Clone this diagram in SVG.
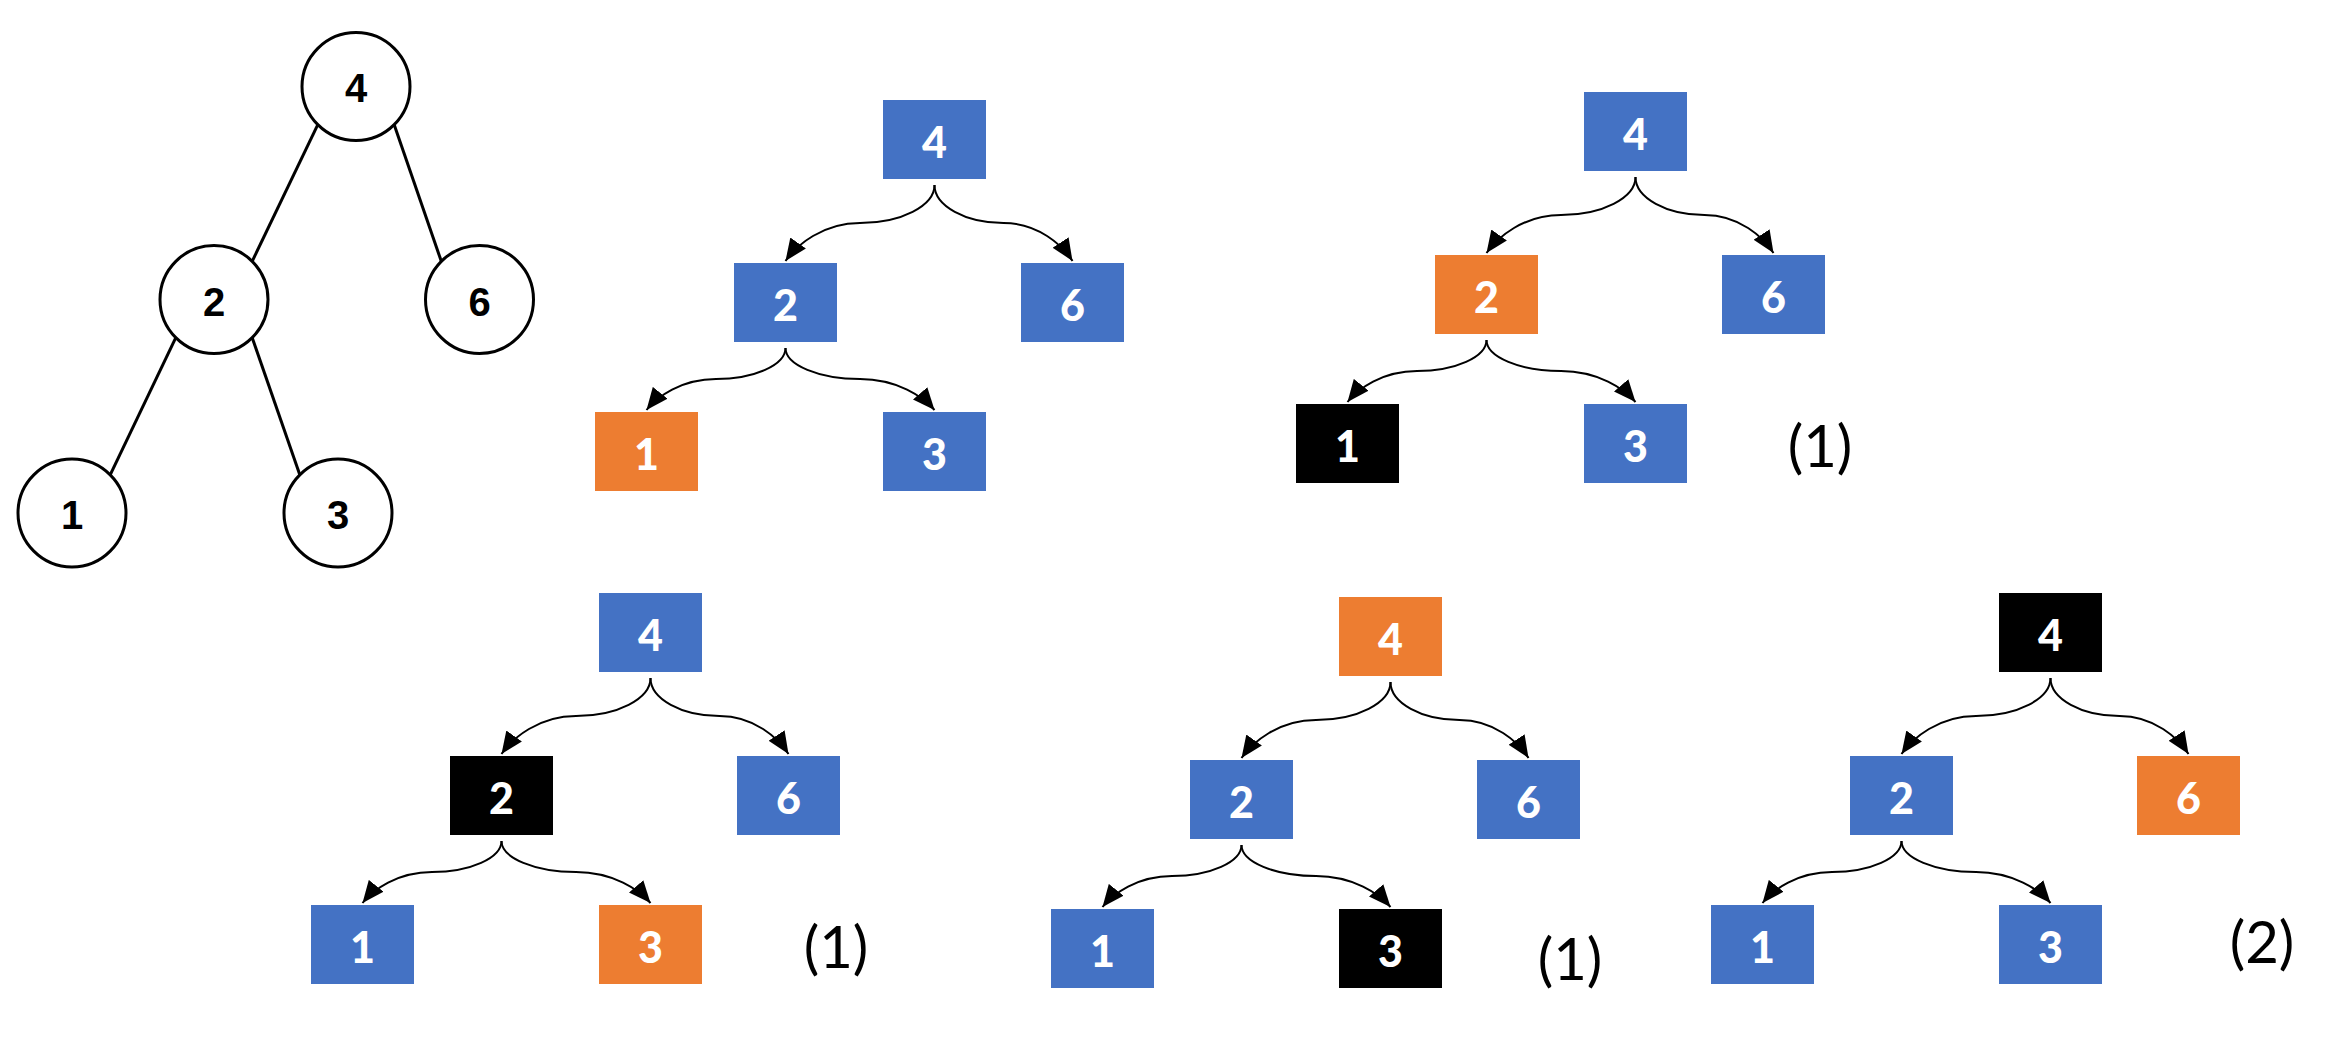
<svg xmlns="http://www.w3.org/2000/svg" width="2346" height="1058" viewBox="0 0 2346 1058">
  <defs>
    <marker id="ah" markerUnits="userSpaceOnUse" markerWidth="22" markerHeight="19" viewBox="0 0 22 19" refX="22" refY="9.5" orient="auto">
      <path d="M0,0 L22,9.5 L0,19 z" fill="#000"/>
    </marker>
  </defs>
  <style>
    .circ{fill:#fff;stroke:#000;stroke-width:3}
    .edge{fill:none;stroke:#000;stroke-width:3}
    .clabel{font-family:"Liberation Sans",Arial,sans-serif;font-weight:bold;font-size:40px;text-anchor:middle;fill:#000}
    .blue{fill:#4472C4}
    .orange{fill:#ED7D31}
    .black{fill:#000}
    .blabel{font-family:Lato,"Open Sans",sans-serif;font-weight:900;font-size:43px;text-anchor:middle;fill:#fff}
    .arrow{fill:none;stroke:#000;stroke-width:2;marker-end:url(#ah)}
    .step{font-family:Lato,"Open Sans",sans-serif;font-size:58px;text-anchor:middle;fill:#000}
  </style>
  <rect width="2346" height="1058" fill="#fff"/>

  <!-- Binary search tree drawn with circles -->
  <g id="bst">
    <g id="bst-edges">
      <line class="edge" x1="317.8" y1="124.7" x2="252.2" y2="261.3"/>
      <line class="edge" x1="394.2" y1="124.7" x2="441.3" y2="261.3"/>
      <line class="edge" x1="175.8" y1="337.7" x2="110.2" y2="474.8"/>
      <line class="edge" x1="252.2" y1="337.7" x2="299.8" y2="474.8"/>
    </g>
    <g id="bst-n4"><circle class="circ" cx="356" cy="86.5" r="54"/><text class="clabel" x="356" y="102">4</text></g>
    <g id="bst-n2"><circle class="circ" cx="214" cy="299.5" r="54"/><text class="clabel" x="214" y="315.5">2</text></g>
    <g id="bst-n6"><circle class="circ" cx="479.5" cy="299.5" r="54"/><text class="clabel" x="479.5" y="315.5">6</text></g>
    <g id="bst-n1"><circle class="circ" cx="72" cy="513" r="54"/><text class="clabel" x="72" y="529">1</text></g>
    <g id="bst-n3"><circle class="circ" cx="338" cy="513" r="54"/><text class="clabel" x="338" y="529">3</text></g>
  </g>

  <!-- Step 1: visit 1 -->
  <g id="tree-1" transform="translate(883,100)">
    <g id="t1-edges">
      <path class="arrow" d="M51.5,85 C51.5,105.9 18,123 -23,123 C-60.3,123 -86.3,145 -97.5,161"/>
      <path class="arrow" d="M51.5,85 C51.5,105.9 82.6,123 120.5,123 C155,123 179.2,145 189.5,161"/>
      <path class="arrow" d="M-97.5,248 C-97.5,265 -128.8,279 -167,279 C-201.8,279 -226.1,297 -236.5,310"/>
      <path class="arrow" d="M-97.5,248 C-97.5,265 -64,279 -23,279 C14.3,279 40.3,297 51.5,310"/>
    </g>
    <g id="t1-n4"><rect class="blue" x="0" y="0" width="103" height="79"/><text class="blabel" x="51.5" y="58">4</text></g>
    <g id="t1-n2"><rect class="blue" x="-149" y="163" width="103" height="79"/><text class="blabel" x="-97.5" y="221">2</text></g>
    <g id="t1-n6"><rect class="blue" x="138" y="163" width="103" height="79"/><text class="blabel" x="189.5" y="221">6</text></g>
    <g id="t1-n1"><rect class="orange" x="-288" y="312" width="103" height="79"/><text class="blabel" x="-236.5" y="370">1</text></g>
    <g id="t1-n3"><rect class="blue" x="0" y="312" width="103" height="79"/><text class="blabel" x="51.5" y="370">3</text></g>
  </g>

  <!-- Step 2: visit 2 -->
  <g id="tree-2" transform="translate(1584,92)">
    <g id="t2-edges">
      <path class="arrow" d="M51.5,85 C51.5,105.9 18,123 -23,123 C-60.3,123 -86.3,145 -97.5,161"/>
      <path class="arrow" d="M51.5,85 C51.5,105.9 82.6,123 120.5,123 C155,123 179.2,145 189.5,161"/>
      <path class="arrow" d="M-97.5,248 C-97.5,265 -128.8,279 -167,279 C-201.8,279 -226.1,297 -236.5,310"/>
      <path class="arrow" d="M-97.5,248 C-97.5,265 -64,279 -23,279 C14.3,279 40.3,297 51.5,310"/>
    </g>
    <g id="t2-n4"><rect class="blue" x="0" y="0" width="103" height="79"/><text class="blabel" x="51.5" y="58">4</text></g>
    <g id="t2-n2"><rect class="orange" x="-149" y="163" width="103" height="79"/><text class="blabel" x="-97.5" y="221">2</text></g>
    <g id="t2-n6"><rect class="blue" x="138" y="163" width="103" height="79"/><text class="blabel" x="189.5" y="221">6</text></g>
    <g id="t2-n1"><rect class="black" x="-288" y="312" width="103" height="79"/><text class="blabel" x="-236.5" y="370">1</text></g>
    <g id="t2-n3"><rect class="blue" x="0" y="312" width="103" height="79"/><text class="blabel" x="51.5" y="370">3</text></g>
  </g>
  <text class="step" x="1820" y="467">(1)</text>

  <!-- Step 3: visit 3 -->
  <g id="tree-3" transform="translate(599,593)">
    <g id="t3-edges">
      <path class="arrow" d="M51.5,85 C51.5,105.9 18,123 -23,123 C-60.3,123 -86.3,145 -97.5,161"/>
      <path class="arrow" d="M51.5,85 C51.5,105.9 82.6,123 120.5,123 C155,123 179.2,145 189.5,161"/>
      <path class="arrow" d="M-97.5,248 C-97.5,265 -128.8,279 -167,279 C-201.8,279 -226.1,297 -236.5,310"/>
      <path class="arrow" d="M-97.5,248 C-97.5,265 -64,279 -23,279 C14.3,279 40.3,297 51.5,310"/>
    </g>
    <g id="t3-n4"><rect class="blue" x="0" y="0" width="103" height="79"/><text class="blabel" x="51.5" y="58">4</text></g>
    <g id="t3-n2"><rect class="black" x="-149" y="163" width="103" height="79"/><text class="blabel" x="-97.5" y="221">2</text></g>
    <g id="t3-n6"><rect class="blue" x="138" y="163" width="103" height="79"/><text class="blabel" x="189.5" y="221">6</text></g>
    <g id="t3-n1"><rect class="blue" x="-288" y="312" width="103" height="79"/><text class="blabel" x="-236.5" y="370">1</text></g>
    <g id="t3-n3"><rect class="orange" x="0" y="312" width="103" height="79"/><text class="blabel" x="51.5" y="370">3</text></g>
  </g>
  <text class="step" x="836" y="968">(1)</text>

  <!-- Step 4: visit 4 -->
  <g id="tree-4" transform="translate(1339,597)">
    <g id="t4-edges">
      <path class="arrow" d="M51.5,85 C51.5,105.9 18,123 -23,123 C-60.3,123 -86.3,145 -97.5,161"/>
      <path class="arrow" d="M51.5,85 C51.5,105.9 82.6,123 120.5,123 C155,123 179.2,145 189.5,161"/>
      <path class="arrow" d="M-97.5,248 C-97.5,265 -128.8,279 -167,279 C-201.8,279 -226.1,297 -236.5,310"/>
      <path class="arrow" d="M-97.5,248 C-97.5,265 -64,279 -23,279 C14.3,279 40.3,297 51.5,310"/>
    </g>
    <g id="t4-n4"><rect class="orange" x="0" y="0" width="103" height="79"/><text class="blabel" x="51.5" y="58">4</text></g>
    <g id="t4-n2"><rect class="blue" x="-149" y="163" width="103" height="79"/><text class="blabel" x="-97.5" y="221">2</text></g>
    <g id="t4-n6"><rect class="blue" x="138" y="163" width="103" height="79"/><text class="blabel" x="189.5" y="221">6</text></g>
    <g id="t4-n1"><rect class="blue" x="-288" y="312" width="103" height="79"/><text class="blabel" x="-236.5" y="370">1</text></g>
    <g id="t4-n3"><rect class="black" x="0" y="312" width="103" height="79"/><text class="blabel" x="51.5" y="370">3</text></g>
  </g>
  <text class="step" x="1570" y="980">(1)</text>

  <!-- Step 5: visit 6 -->
  <g id="tree-5" transform="translate(1999,593)">
    <g id="t5-edges">
      <path class="arrow" d="M51.5,85 C51.5,105.9 18,123 -23,123 C-60.3,123 -86.3,145 -97.5,161"/>
      <path class="arrow" d="M51.5,85 C51.5,105.9 82.6,123 120.5,123 C155,123 179.2,145 189.5,161"/>
      <path class="arrow" d="M-97.5,248 C-97.5,265 -128.8,279 -167,279 C-201.8,279 -226.1,297 -236.5,310"/>
      <path class="arrow" d="M-97.5,248 C-97.5,265 -64,279 -23,279 C14.3,279 40.3,297 51.5,310"/>
    </g>
    <g id="t5-n4"><rect class="black" x="0" y="0" width="103" height="79"/><text class="blabel" x="51.5" y="58">4</text></g>
    <g id="t5-n2"><rect class="blue" x="-149" y="163" width="103" height="79"/><text class="blabel" x="-97.5" y="221">2</text></g>
    <g id="t5-n6"><rect class="orange" x="138" y="163" width="103" height="79"/><text class="blabel" x="189.5" y="221">6</text></g>
    <g id="t5-n1"><rect class="blue" x="-288" y="312" width="103" height="79"/><text class="blabel" x="-236.5" y="370">1</text></g>
    <g id="t5-n3"><rect class="blue" x="0" y="312" width="103" height="79"/><text class="blabel" x="51.5" y="370">3</text></g>
  </g>
  <text class="step" x="2262" y="963">(2)</text>
</svg>
